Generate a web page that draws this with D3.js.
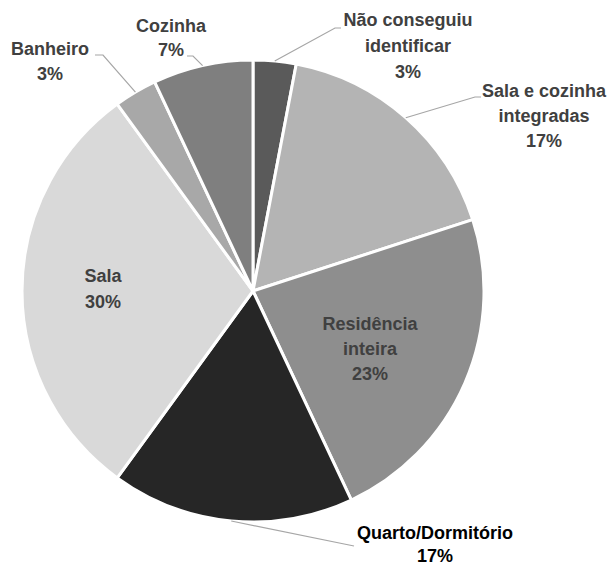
<!DOCTYPE html>
<meta charset="utf-8">
<style>
body { margin: 0; background: #fff; }
svg { display: block; }
.lbl { font-family: "Liberation Sans", Arial, sans-serif; font-weight: bold; font-size: 18px; }
</style>
<body>
<svg width="612" height="567"></svg>
</body>
<script src="https://d3js.org/d3.v7.min.js"></script>
<script>

// data, clockwise from 12 o'clock
var categories = ["Não conseguiu identificar", "Sala e cozinha integradas", "Residência inteira",
                  "Quarto/Dormitório", "Sala", "Banheiro", "Cozinha"];
var values = [3, 17, 23, 17, 30, 3, 7];
var labelLines = [["Não conseguiu", "identificar"], ["Sala e cozinha", "integradas"], ["Residência", "inteira"],
                  ["Quarto/Dormitório"], ["Sala"], ["Banheiro"], ["Cozinha"]];

var colors = ["#5a5a5a", "#b4b4b4", "#8e8e8e", "#262626", "#d9d9d9", "#a8a8a8", "#7f7f7f"];

// label layout: center x, first baseline, line step, optional leader elbow/end
var layout = [
  {x: 408, y: 26, step: 26, elbow: [335, 28], end: [341, 28]},
  {x: 544, y: 97, step: 25, elbow: [475, 97], end: [481, 97]},
  {x: 370, y: 330, step: 25},
  {x: 435, y: 539, step: 23, elbow: [354, 546], end: [354, 546]},
  {x: 103, y: 282, step: 26},
  {x: 50, y: 55, step: 25, elbow: [103, 55], end: [95, 55]},
  {x: 171, y: 32, step: 24, elbow: [193, 56], end: [187, 56]}
];

var svg = d3.select("svg"),
    cx = 253, cy = 291, radius = 231;

var g = svg.append("g").attr("transform", "translate(" + cx + "," + cy + ")");

var pie = d3.pie().sort(null).value(function(d) { return d; });
var arc = d3.arc().innerRadius(0).outerRadius(radius);
var arcs = pie(values);

g.selectAll("path.slice")
  .data(arcs)
  .enter().append("path")
    .attr("class", "slice")
    .attr("d", arc)
    .attr("fill", function(d, i) { return colors[i]; })
    .attr("stroke", "#fff")
    .attr("stroke-width", 3)
    .attr("stroke-linejoin", "round");

// leader lines from the middle of the outer edge
svg.selectAll("polyline.leader")
  .data(arcs.filter(function(d, i) { return layout[i].elbow; }))
  .enter().append("polyline")
    .attr("class", "leader")
    .attr("fill", "none")
    .attr("stroke", "#a6a6a6")
    .attr("stroke-width", 1.2)
    .attr("points", function(d) {
      var L = layout[d.index],
          a = (d.startAngle + d.endAngle) / 2,
          px = cx + radius * Math.sin(a),
          py = cy - radius * Math.cos(a);
      return [[px, py], L.elbow, L.end].map(function(p) { return p.join(","); }).join(" ");
    });

// labels
var lbl = svg.selectAll("text.lbl")
  .data(arcs)
  .enter().append("text")
    .attr("class", "lbl")
    .attr("text-anchor", "middle")
    .attr("fill", function(d, i) { return i === 3 ? "#000" : "#404040"; });

lbl.each(function(d, i) {
  var t = d3.select(this),
      lines = labelLines[i].concat([values[i] + "%"]);
  lines.forEach(function(s, k) {
    t.append("tspan")
      .attr("x", layout[i].x)
      .attr("y", layout[i].y + k * layout[i].step)
      .text(s);
  });
});

</script>
